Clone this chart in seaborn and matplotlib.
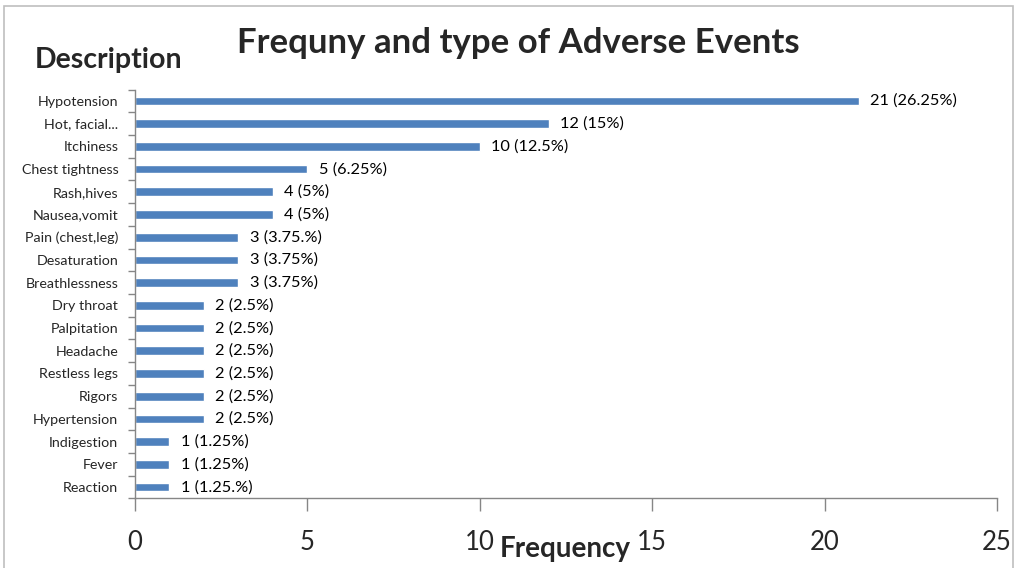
import matplotlib
matplotlib.use("Agg")
import matplotlib.pyplot as plt
import seaborn as sns
import pandas as pd
import numpy as np
from matplotlib.patches import Rectangle

categories = ["Hypotension", "Hot, facial...", "Itchiness", "Chest tightness", "Rash,hives",
              "Nausea,vomit", "Pain (chest,leg)", "Desaturation", "Breathlessness", "Dry throat",
              "Palpitation", "Headache", "Restless legs", "Rigors", "Hypertension",
              "Indigestion", "Fever", "Reaction"]
counts = [21, 12, 10, 5, 4, 4, 3, 3, 3, 2, 2, 2, 2, 2, 2, 1, 1, 1]
value_labels = ["21 (26.25%)", "12 (15%)", "10 (12.5%)", "5 (6.25%)", "4 (5%)", "4 (5%)",
                "3 (3.75.%)", "3 (3.75%)", "3 (3.75%)", "2 (2.5%)", "2 (2.5%)", "2 (2.5%)",
                "2 (2.5%)", "2 (2.5%)", "2 (2.5%)", "1 (1.25%)", "1 (1.25%)", "1 (1.25.%)"]
x_ticks = [0, 5, 10, 15, 20, 25]

sns.set_style("white")
plt.rcParams['font.family'] = ['Lato', 'DejaVu Sans']

df = pd.DataFrame({"Description": categories, "Frequency": counts})

fig = plt.figure(figsize=(10.18, 5.68), dpi=100)
ax = fig.add_axes([0.1326, 0.1225, 0.8468, 0.7198])

sns.barplot(data=df, x="Frequency", y="Description", orient="h", color="#4F81BD",
            saturation=1, width=0.38, ax=ax)

for cont in ax.containers:
    ax.bar_label(cont, labels=value_labels, padding=8, fontsize=11.8, color="black")

ax.set_xlim(0, 25)
ax.set_ylim(len(categories) - 0.5, -0.5)
ax.set_xticks(x_ticks)
ax.set_xticklabels([str(t) for t in x_ticks], fontsize=18.5)
ax.tick_params(axis="x", length=9, width=1, color="#868686", pad=14, direction="out", bottom=True)
ax.tick_params(axis="y", which="major", length=0, labelsize=10.3, pad=12)
ax.set_yticks(np.arange(-0.5, len(categories), 1), minor=True)
ax.tick_params(axis="y", which="minor", length=5, width=1, color="#868686", left=True)

for s in ["top", "right"]:
    ax.spines[s].set_visible(False)
for s in ["left", "bottom"]:
    ax.spines[s].set_color("#868686")
    ax.spines[s].set_linewidth(1)

ax.set_xlabel("")
ax.set_ylabel("")

fig.text(0.509, 0.925, "Frequny and type of Adverse Events", ha="center", va="center",
         fontsize=25, fontweight="bold")
fig.text(0.107, 0.895, "Description", ha="center", va="center", fontsize=20.5, fontweight="bold")
fig.text(0.555, 0.033, "Frequency", ha="center", va="center", fontsize=20, fontweight="bold")

fig.patches.append(Rectangle((0.004, -0.01), 0.991, 1.0, transform=fig.transFigure,
                             fill=False, edgecolor="#BFBFBF", linewidth=1.2))

fig.savefig("out.png", dpi=100, facecolor="white")
